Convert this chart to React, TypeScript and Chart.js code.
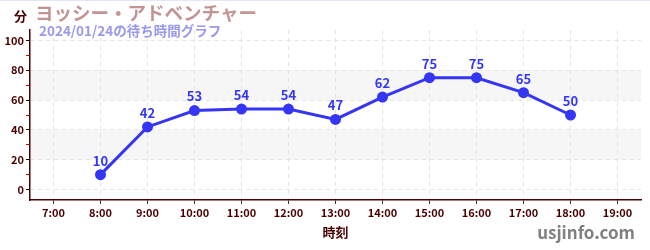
import React, { useEffect, useRef } from "react";
import { Chart, registerables } from "chart.js";

Chart.register(...registerables);

const title = "ヨッシー・アドベンチャー";
const subtitle = "2024/01/24の待ち時間グラフ";
const yUnit = "分";
const xTitle = "時刻";
const watermark = "usjinfo.com";
const hours = ["7:00", "8:00", "9:00", "10:00", "11:00", "12:00", "13:00", "14:00", "15:00", "16:00", "17:00", "18:00", "19:00"];
const waits: (number | null)[] = [null, 10, 42, 53, 54, 54, 47, 62, 75, 75, 65, 50, null];
const bands: [number, number][] = [[20, 40], [60, 80]];

const FONT = "'Noto Sans CJK JP', 'Noto Sans', sans-serif";
const BLUE = "#3535f5";
const MAROON = "#4a0000";

const decorPlugin = {
  id: "decor",
  beforeDraw(chart: any) {
    const { ctx, chartArea, scales } = chart;
    const y = scales.y;
    ctx.save();
    ctx.fillStyle = "#ffffff";
    ctx.fillRect(0, 0, chart.width, chart.height);
    ctx.fillStyle = "#f6f6f6";
    for (const [a, b] of bands) {
      const top = y.getPixelForValue(b);
      const bot = y.getPixelForValue(a);
      ctx.fillRect(chartArea.left, top, chartArea.right - chartArea.left, bot - top);
    }
    ctx.fillStyle = "#e6e6fa";
    ctx.fillRect(0, 0, chart.width, 1);
    ctx.restore();
  },
  afterDatasetsDraw(chart: any) {
    const { ctx } = chart;
    const meta = chart.getDatasetMeta(0);
    ctx.save();
    ctx.font = `bold 13px ${FONT}`;
    ctx.fillStyle = BLUE;
    ctx.textAlign = "center";
    ctx.textBaseline = "middle";
    meta.data.forEach((pt: any, i: number) => {
      const v = waits[i];
      if (v === null || v === undefined) return;
      ctx.fillText(String(v), pt.x, pt.y - 14);
    });
    ctx.restore();
  },
  afterDraw(chart: any) {
    const { ctx, chartArea } = chart;
    ctx.save();
    ctx.textBaseline = "middle";
    ctx.textAlign = "left";
    ctx.font = `bold 18.5px ${FONT}`;
    ctx.fillStyle = "#c49494";
    ctx.fillText(title, 35, 13);
    ctx.font = `bold 13.5px ${FONT}`;
    ctx.fillStyle = "#9898ee";
    ctx.fillText(subtitle, 39, 31);
    ctx.font = `bold 13px ${FONT}`;
    ctx.fillStyle = MAROON;
    ctx.fillText(yUnit, 14, 16);
    ctx.textAlign = "center";
    ctx.fillText(xTitle, (chartArea.left + chartArea.right) / 2, 232);
    ctx.textAlign = "right";
    ctx.font = `bold 17px ${FONT}`;
    ctx.fillStyle = "#808080";
    ctx.fillText(watermark, 635, 233);
    ctx.restore();
  },
};

export default function App() {
  const ref = useRef<HTMLCanvasElement>(null);
  useEffect(() => {
    document.body.style.margin = "0";
    const chart = new Chart(ref.current as HTMLCanvasElement, {
      type: "line",
      data: {
        labels: hours,
        datasets: [
          {
            data: waits,
            borderColor: BLUE,
            backgroundColor: BLUE,
            borderWidth: 3,
            pointRadius: 5.5,
            pointBackgroundColor: BLUE,
            pointBorderColor: BLUE,
            pointBorderWidth: 0,
            tension: 0,
            spanGaps: false,
          },
        ],
      },
      options: {
        responsive: false,
        animation: false,
        layout: { padding: { top: 30, right: 9, left: 0, bottom: 0 } },
        plugins: {
          legend: { display: false },
          tooltip: { enabled: false },
          title: { display: false },
        },
        scales: {
          x: {
            type: "category",
            offset: true,
            afterFit(scale: any) {
              scale.height = 50;
            },
            border: { color: MAROON, width: 1.5, dash: [4, 4] },
            grid: {
              offset: false,
              color: "#e4e4e4",
              tickColor: "#333",
              tickLength: 4,
            } as any,
            ticks: {
              color: MAROON,
              font: { family: FONT, size: 11, weight: "bold" },
              padding: 2,
              maxRotation: 0,
              autoSkip: false,
            },
          },
          y: {
            min: -7,
            max: 107,
            afterFit(scale: any) {
              scale.width = 30;
            },
            afterBuildTicks(scale: any) {
              scale.ticks = scale.ticks.filter((t: any) => t.value % 10 === 0);
            },
            border: { color: MAROON, width: 1.5, dash: [4, 4] },
            grid: {
              color: (c: any) => (c.tick && c.tick.value % 20 === 0 ? "#e4e4e4" : "rgba(0,0,0,0)"),
              tickColor: (c: any) => (c.tick && c.tick.value % 20 === 0 ? "#111" : "#dd0000"),
              tickLength: 4,
            } as any,
            ticks: {
              stepSize: 10,
              includeBounds: false,
              color: MAROON,
              font: { family: FONT, size: 11, weight: "bold" },
              padding: 2,
              callback: (v: any) => (Number(v) % 20 === 0 ? String(v) : ""),
            },
          },
        },
      },
      plugins: [decorPlugin],
    });
    return () => chart.destroy();
  }, []);
  return (
    <div style={{ width: 650, height: 250 }}>
      <canvas ref={ref} width={650} height={250} />
    </div>
  );
}
